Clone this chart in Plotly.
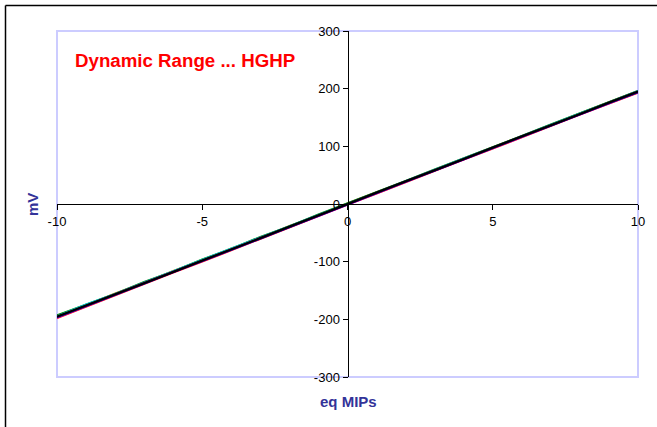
import plotly.graph_objects as go

# ---- data ----
x_mips = [-10, -9, -8, -7, -6, -5, -4, -3, -2, -1, 0, 1, 2, 3, 4, 5, 6, 7, 8, 9, 10]

ch_orange = [-194, -176, -155, -137, -116, -98, -77, -59, -38, -20, 1, 20, 40, 59, 79, 98, 118, 137, 157, 176, 196]
ch_green = [-193, -175, -156, -135, -117, -96, -78, -57, -39, -18, 1, 21, 40, 60, 79, 99, 118, 138, 157, 177, 196]
ch_cyan = [-195, -174, -156, -136, -116, -97, -77, -58, -38, -19, 0, 20, 40, 59, 79, 98, 118, 137, 157, 176, 196]
ch_red = [-198, -178, -158, -139, -119, -100, -80, -61, -41, -21, -1, 18, 38, 57, 77, 96, 116, 135, 155, 174, 193]
ch_magenta = [-197, -177, -157, -138, -118, -99, -79, -60, -40, -21, -1, 19, 38, 58, 77, 97, 116, 136, 155, 175, 194]
ch_purple = [-196, -176, -157, -137, -118, -98, -79, -59, -40, -20, 0, 19, 39, 58, 78, 97, 117, 136, 156, 175, 195]
ch_navy = [-196, -177, -157, -138, -118, -99, -79, -60, -40, -20, 0, 19, 39, 58, 78, 97, 117, 136, 156, 175, 194]
ch_black = [-195, -176, -157, -137, -118, -98, -79, -59, -39, -20, 0, 20, 39, 59, 78, 98, 117, 137, 156, 176, 195]

series = [
    ("ch1", ch_orange, "#ff9900"),
    ("ch2", ch_green, "#008000"),
    ("ch3", ch_cyan, "#00cccc"),
    ("ch4", ch_red, "#ff0000"),
    ("ch5", ch_magenta, "#cc00cc"),
    ("ch6", ch_purple, "#800080"),
    ("ch7", ch_navy, "#000080"),
    ("ch8", ch_black, "#000000"),
]

x_ticks = [-10, -5, 0, 5, 10]
y_ticks = [-300, -200, -100, 0, 100, 200, 300]

title_text = "Dynamic Range ... HGHP"
x_title = "eq MIPs"
y_title = "mV"

# ---- figure ----
W, H = 657, 427
PL, PR, PT, PB = 57, 638, 31, 377          # plot area in window pixels
ml, mr, mt, mb = PL, W - PR, PT, H - PB
pw, ph = PR - PL, PB - PT

def px_x(p):
    return (p - PL) / pw

def px_y(p):
    return (PB - p) / ph

fig = go.Figure()
for name, vals, col in series:
    fig.add_trace(go.Scatter(x=x_mips, y=vals, mode="lines", name=name,
                             line=dict(color=col, width=2)))

FONT = "Arial, Liberation Sans, sans-serif"
axis_font = dict(family=FONT, size=13, color="black")

fig.update_layout(
    width=W, height=H,
    margin=dict(l=ml, r=mr, t=mt, b=mb),
    paper_bgcolor="white", plot_bgcolor="white",
    showlegend=False,
    xaxis=dict(range=[-10, 10], tickvals=x_ticks, ticktext=[str(v) for v in x_ticks],
               anchor="free", position=0.5, showline=True, linecolor="black", linewidth=1,
               ticks="outside", ticklen=5, tickcolor="black", showgrid=False, zeroline=False,
               tickfont=axis_font, fixedrange=True),
    yaxis=dict(range=[-300, 300], tickvals=y_ticks, ticktext=[str(v) for v in y_ticks],
               anchor="free", position=0.5, showline=True, linecolor="black", linewidth=1,
               ticks="outside", ticklen=5, tickcolor="black", showgrid=False, zeroline=False,
               tickfont=axis_font, fixedrange=True),
    shapes=[
        dict(type="rect", xref="paper", yref="paper", x0=0, x1=1, y0=0, y1=1,
             line=dict(color="#ccccff", width=2), layer="below"),
        dict(type="line", xref="paper", yref="paper", x0=px_x(5.5), x1=px_x(5.5),
             y0=px_y(5.5), y1=px_y(H + 20), line=dict(color="black", width=1.5)),
        dict(type="line", xref="paper", yref="paper", x0=px_x(5.5), x1=px_x(W + 20),
             y0=px_y(5.5), y1=px_y(5.5), line=dict(color="black", width=1.5)),
    ],
    annotations=[
        dict(text="<b>" + title_text + "</b>", xref="paper", yref="paper",
             x=px_x(73), y=px_y(60), xanchor="left", yanchor="middle", showarrow=False,
             font=dict(family=FONT, size=18.7, color="#ff0000")),
        dict(text="<b>" + x_title + "</b>", xref="paper", yref="paper",
             x=px_x(348), y=px_y(401), xanchor="center", yanchor="middle", showarrow=False,
             font=dict(family=FONT, size=15, color="#333399")),
        dict(text="<b>" + y_title + "</b>", xref="paper", yref="paper",
             x=px_x(32), y=px_y(205), xanchor="center", yanchor="middle", showarrow=False,
             textangle=-90,
             font=dict(family=FONT, size=15, color="#333399")),
    ],
)

fig.write_html("out.html", config={"displayModeBar": False},
               post_script="document.body.style.margin='0';")
